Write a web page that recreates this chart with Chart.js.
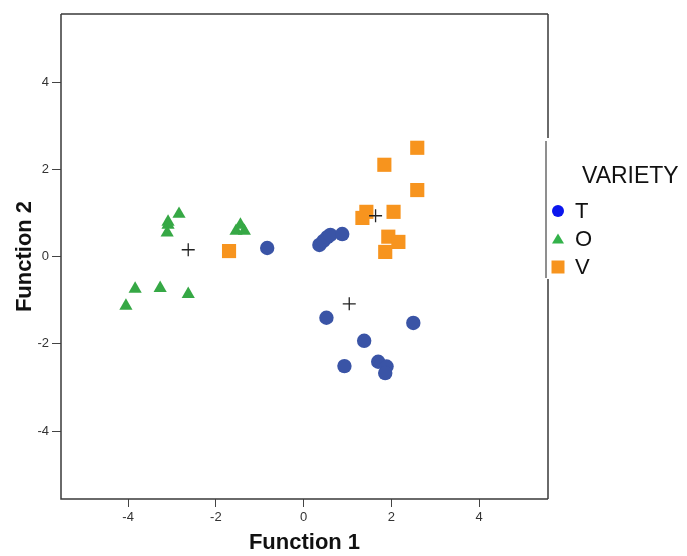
<!DOCTYPE html>
<html>
<head>
<meta charset="utf-8">
<script src="https://cdn.jsdelivr.net/npm/chart.js@4"></script>
<style>
  html, body { margin: 0; padding: 0; background: #fff; }
  #wrap { width: 687px; height: 556px; }
</style>
</head>
<body>
<div id="wrap"><canvas id="c" width="687" height="556"></canvas></div>
<script>
// ---- data ----
const seriesNames = ['T', 'O', 'V'];
const tX = [-0.83, 0.36, 0.45, 0.54, 0.61, 0.88, 0.52, 1.38, 0.93, 1.70, 1.89, 1.86, 2.50];
const tY = [0.20, 0.27, 0.36, 0.45, 0.50, 0.52, -1.40, -1.93, -2.51, -2.41, -2.52, -2.67, -1.52];
const oX = [-4.05, -3.84, -3.27, -2.63, -2.84, -3.09, -3.09, -3.11, -1.54, -1.44, -1.35];
const oY = [-1.13, -0.74, -0.72, -0.86, 0.98, 0.80, 0.73, 0.55, 0.59, 0.73, 0.59];
const vX = [2.59, 1.84, 2.59, 2.05, 1.43, 1.34, 1.93, 2.16, 1.86, -1.70];
const vY = [2.50, 2.11, 1.53, 1.03, 1.03, 0.89, 0.46, 0.34, 0.11, 0.13];
const centroidX = [-2.63, 1.64, 1.04];
const centroidY = [0.16, 0.94, -1.08];
const xTicks = [-4, -2, 0, 2, 4];
const yTicks = [-4, -2, 0, 2, 4];
const xTitle = 'Function 1';
const yTitle = 'Function 2';
const legendTitle = 'VARIETY';

const pts = (xs, ys) => xs.map((x, i) => ({ x: x, y: ys[i] }));

const colT = '#3a54a6', colO = '#36a845', colV = '#f7941e';
const legendCols = ['#0b16ee', '#33b24a', '#f7941e'];

const framePlugin = {
  id: 'frame',
  beforeDatasetsDraw(chart) {
    const { ctx, chartArea: a } = chart;
    ctx.save();
    ctx.strokeStyle = '#3a3a3a';
    ctx.lineWidth = 1.5;
    ctx.beginPath();
    ctx.moveTo(a.left, a.top); ctx.lineTo(a.left, a.bottom);
    ctx.lineTo(a.right, a.bottom);
    ctx.moveTo(a.left, a.top); ctx.lineTo(a.right, a.top);
    ctx.moveTo(a.right, a.top); ctx.lineTo(a.right, 138);
    ctx.moveTo(a.right, 279); ctx.lineTo(a.right, a.bottom);
    ctx.stroke();
    ctx.strokeStyle = '#6a6a6a';
    ctx.lineWidth = 1.5;
    ctx.beginPath();
    ctx.moveTo(a.right - 2, 141); ctx.lineTo(a.right - 2, 278);
    ctx.stroke();
    ctx.restore();
  },
  afterDraw(chart) {
    const { ctx } = chart;
    ctx.save();
    ctx.fillStyle = '#111';
    ctx.textBaseline = 'middle';
    ctx.textAlign = 'left';
    ctx.font = '23px "Liberation Sans", Arial, sans-serif';
    ctx.fillText(legendTitle, 582, 177);
    ctx.font = '22px "Liberation Sans", Arial, sans-serif';
    const ys = [211, 239, 267];
    const mx = 558;
    seriesNames.forEach((name, i) => {
      const y = ys[i];
      ctx.fillStyle = legendCols[i];
      ctx.beginPath();
      if (i === 0) {
        ctx.arc(mx, y, 6, 0, Math.PI * 2);
      } else if (i === 1) {
        ctx.moveTo(mx, y - 5.5); ctx.lineTo(mx + 6, y + 4.5); ctx.lineTo(mx - 6, y + 4.5); ctx.closePath();
      } else {
        ctx.rect(mx - 6.5, y - 6.5, 13, 13);
      }
      ctx.fill();
      ctx.fillStyle = '#111';
      ctx.fillText(name, 575, y + 1);
    });
    ctx.restore();
  }
};

const tickFont = { family: '"Liberation Sans", Arial, sans-serif', size: 13 };
const titleFont = { family: '"Liberation Sans", Arial, sans-serif', size: 22, weight: 'bold' };

new Chart(document.getElementById('c'), {
  type: 'scatter',
  data: {
    datasets: [
      { label: 'centroids', data: pts(centroidX, centroidY), pointStyle: 'cross', pointRadius: 6.5,
        borderColor: '#222', borderWidth: 1.3, backgroundColor: '#222', order: 0 },
      { label: seriesNames[0], data: pts(tX, tY), pointStyle: 'circle', pointRadius: 7.2,
        backgroundColor: colT, borderColor: colT, borderWidth: 0, order: 3 },
      { label: seriesNames[1], data: pts(oX, oY), pointStyle: 'triangle', pointRadius: 7.6,
        backgroundColor: colO, borderColor: colO, borderWidth: 0, order: 2 },
      { label: seriesNames[2], data: pts(vX, vY), pointStyle: 'rect', pointRadius: 10,
        backgroundColor: colV, borderColor: colV, borderWidth: 0, order: 1 }
    ]
  },
  options: {
    responsive: false,
    animation: false,
    layout: { padding: { left: 0, top: 14, right: 139, bottom: 0 } },
    plugins: { legend: { display: false }, tooltip: { enabled: false } },
    elements: { point: { hoverRadius: 0 } },
    scales: {
      x: {
        type: 'linear', min: -5.53, max: 5.57,
        afterBuildTicks: s => { s.ticks = xTicks.map(v => ({ value: v })); },
        afterFit: s => { s.height = 57; },
        grid: { display: true, drawOnChartArea: false, drawTicks: true, tickLength: 8, color: '#444', lineWidth: 1 },
        border: { display: false },
        ticks: { font: tickFont, color: '#333', padding: 3, maxRotation: 0 },
        title: { display: true, text: xTitle, font: titleFont, color: '#111', padding: { top: 0, bottom: 0 } }
      },
      y: {
        type: 'linear', min: -5.56, max: 5.57,
        afterBuildTicks: s => { s.ticks = yTicks.map(v => ({ value: v })); },
        afterFit: s => { s.width = 61; },
        grid: { display: true, drawOnChartArea: false, drawTicks: true, tickLength: 9, color: '#444', lineWidth: 1 },
        border: { display: false },
        ticks: { font: tickFont, color: '#333', padding: 3 },
        title: { display: true, text: yTitle, font: titleFont, color: '#111', padding: { top: 12, bottom: 0 } }
      }
    }
  },
  plugins: [framePlugin]
});
</script>
</body>
</html>
